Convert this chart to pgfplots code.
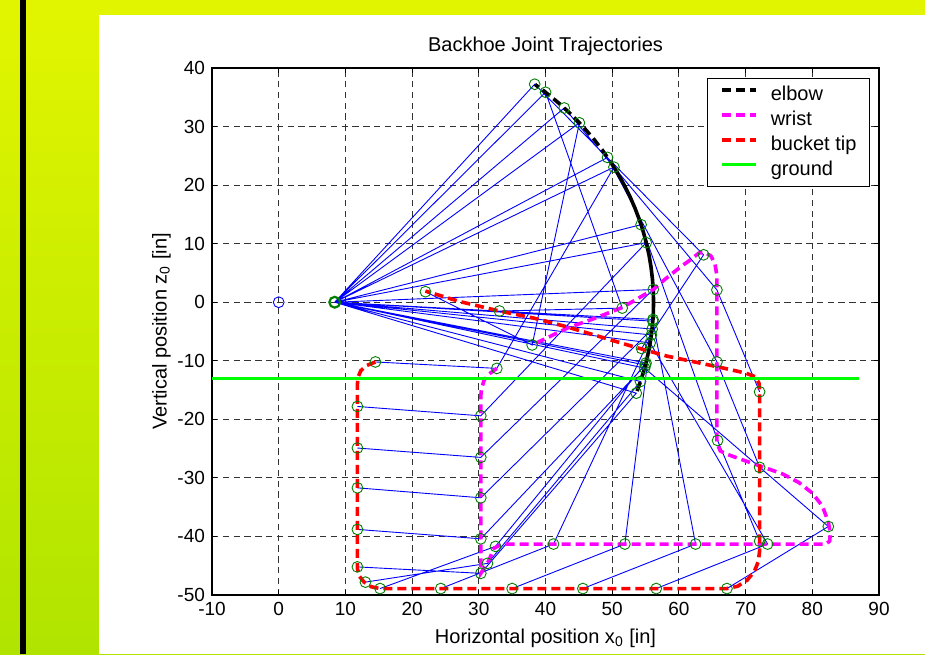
\documentclass[border=0pt]{standalone}
\usepackage{fontspec}
\setmainfont{Liberation Sans}
\usepackage{pgfplots}
\pgfplotsset{compat=1.18}

\definecolor{bgtop}{RGB}{226,245,0}
\definecolor{bgbot}{RGB}{176,228,0}
\definecolor{circ}{RGB}{0,128,0}
\definecolor{gnd}{RGB}{0,255,0}
\definecolor{mag}{RGB}{255,0,255}
\definecolor{rd}{RGB}{255,0,0}
\definecolor{bl}{RGB}{0,0,255}

\begin{document}
\begin{tikzpicture}
% slide background
\path[use as bounding box] (0,0) rectangle (462.5pt,327pt);
\shade[top color=bgtop, bottom color=bgbot] (0,0) rectangle (462.5pt,327pt);
\fill[black] (9.75pt,0) rectangle (13pt,327pt);
\fill[white] (49.5pt,0) rectangle (462.5pt,319.5pt);

\begin{axis}[
  at={(106pt,29.5pt)}, anchor=south west,
  scale only axis, width=333.5pt, height=263.5pt,
  xmin=-10, xmax=90, ymin=-50, ymax=40,
  xtick={-10,0,...,90}, ytick={-50,-40,...,40},
  tick pos=both, tick align=inside, major tick length=2.5pt,
  tick style={black, line width=0.5pt},
  axis line style={line width=0.75pt},
  grid=major,
  major grid style={black!80, line width=0.5pt, dash pattern=on 3.2pt off 2.2pt},
  /pgf/number format/assume math mode=true,
  ticklabel style={font=\fontsize{9.5}{11}\selectfont},
  label style={font=\fontsize{10}{12}\selectfont},
  title style={font=\fontsize{10}{12}\selectfont, yshift=-3.5pt},
  ylabel shift=-3.5pt,
  title={Backhoe Joint Trajectories},
  xlabel={Horizontal position x\textsubscript{0} [in]},
  ylabel={Vertical position z\textsubscript{0} [in]},
  unbounded coords=jump,
  legend cell align=left,
  legend style={at={(0.9865,0.981)}, anchor=north east, draw=black,
    line width=0.6pt, font=\fontsize{10}{12}\selectfont,
    inner xsep=6.5pt, inner ysep=3pt, row sep=2pt, column sep=6.5pt,
    nodes={inner sep=0pt, text height=8pt, text depth=2.5pt}},
  legend image code/.code={\draw[#1] (0pt,2.7pt) -- (17pt,2.7pt);},
  pathstyle/.style={line width=1.8pt, dash pattern=on 4.5pt off 2.5pt},
]

% links: base -> elbow -> wrist -> bucket tip, one per frame
\addplot[bl, line width=0.45pt, forget plot] coordinates {
 (8.4,0) (50.26,23.07) (32.7,-11.3) (14.5,-10.2) (nan,nan)
 (8.4,0) (55.10,10.18) (30.3,-19.4) (11.8,-17.8) (nan,nan)
 (8.4,0) (56.15,2.17) (30.3,-26.5) (11.8,-24.9) (nan,nan)
 (8.4,0) (55.99,-4.58) (30.3,-33.4) (11.8,-31.7) (nan,nan)
 (8.4,0) (54.98,-10.73) (30.3,-40.4) (11.8,-38.8) (nan,nan)
 (8.4,0) (53.61,-15.53) (30.3,-46.3) (11.8,-45.2) (nan,nan)
 (8.4,0) (54.24,-13.54) (31.3,-44.6) (13.0,-47.8) (nan,nan)
 (8.4,0) (55.07,-10.37) (32.5,-41.7) (15.2,-48.9) (nan,nan)
 (8.4,0) (55.87,-5.59) (41.2,-41.3) (24.3,-48.9) (nan,nan)
 (8.4,0) (56.11,-2.94) (51.9,-41.3) (35.0,-48.9) (nan,nan)
 (8.4,0) (56.09,-3.23) (62.5,-41.3) (45.6,-48.9) (nan,nan)
 (8.4,0) (55.69,-6.95) (73.3,-41.3) (56.6,-48.9) (nan,nan)
 (8.4,0) (54.86,-11.25) (82.4,-38.3) (67.2,-48.9) (nan,nan)
 (8.4,0) (54.33,13.25) (65.8,-23.6) (72.1,-40.8) (nan,nan)
 (8.4,0) (49.30,24.73) (65.7,-10.2) (72.1,-28.2) (nan,nan)
 (8.4,0) (42.81,33.18) (65.7,2.1) (72.1,-15.3) (nan,nan)
 (8.4,0) (38.38,37.23) (63.7,8.1) (54.4,-7.9) (nan,nan)
 (8.4,0) (40.01,35.86) (51.5,-1.0) (33.1,-1.5) (nan,nan)
 (8.4,0) (45.08,30.64) (38.0,-7.3) (22.0,1.8)
};

% elbow path
\addplot[black, pathstyle] coordinates {
 (50.26,23.07) (50.84,22) (51.81,20) (52.68,18) (53.44,16) (54.10,14)
 (54.67,12) (55.14,10) (55.53,8) (55.82,6) (56.03,4) (56.16,2) (56.2,0)
 (56.16,-2) (56.03,-4) (55.82,-6) (55.53,-8) (55.14,-10) (54.67,-12)
 (54.10,-14) (53.61,-15.53)
 (54.10,-14) (54.67,-12) (55.14,-10) (55.53,-8) (55.82,-6) (56.03,-4)
 (56.14,-2.5) (56.09,-3.23) (55.82,-6) (55.53,-8) (55.14,-10) (54.86,-11.25)
 (55.14,-10) (55.53,-8) (55.82,-6) (56.03,-4) (56.16,-2) (56.2,0)
 (56.16,2) (56.03,4) (55.82,6) (55.53,8) (55.14,10) (54.67,12) (54.33,13.25)
 (54.10,14) (53.44,16) (52.68,18) (51.81,20) (50.84,22) (49.74,24)
 (48.51,26) (47.14,28) (45.61,30) (43.91,32) (42.0,34) (39.85,36) (38.42,37.2)
 (39.85,36) (42.0,34) (43.91,32) (45.08,30.64)
};
\addlegendentry{elbow}

% wrist path
\addplot[mag, pathstyle] coordinates {
 (32.7,-11.3) (31.6,-12.2) (30.8,-13.3) (30.4,-14.8) (30.3,-16)
 (30.3,-46.3) (31.3,-44.6) (32.3,-42.0) (33.5,-41.3)
 (82.0,-41.3) (82.6,-40.8) (82.7,-39.5) (82.4,-37.5) (81.5,-34.8)
 (80.0,-32.6) (78.0,-30.8) (75.5,-29.3) (72.5,-28.1) (69.5,-26.9)
 (67.3,-26.0) (66.2,-25.4) (65.8,-24.3) (65.7,-23.6)
 (65.7,4.5) (65.4,6.6) (64.8,7.9) (63.9,8.5) (63.0,8.4) (61.8,7.3)
 (60.2,6.0) (58.0,4.0) (56.2,2.2) (53.5,0.4) (51.5,-0.9) (47.5,-2.7)
 (43.3,-4.4) (38.0,-7.3)
};
\addlegendentry{wrist}

% bucket tip path
\addplot[rd, pathstyle] coordinates {
 (14.5,-10.2) (13.2,-10.8) (12.3,-11.7) (11.9,-12.8) (11.8,-14)
 (11.8,-45.5) (12.1,-46.8) (12.8,-47.8) (13.9,-48.6) (15.2,-48.9)
 (67.2,-48.9) (68.8,-48.5) (70.2,-47.5) (71.3,-46.0) (71.9,-44.3)
 (72.1,-42.5) (72.1,-15.3) (72.0,-13.8) (71.4,-12.7) (70.0,-12.1)
 (66.5,-11.2) (63.2,-10.4) (58.2,-9.2) (53.2,-7.6) (48.2,-5.9)
 (43.2,-4.2) (38.2,-2.7) (33.1,-1.5) (27.2,0.1) (22.0,1.9)
};
\addlegendentry{bucket tip}

% ground
\addplot[gnd, line width=1.5pt] coordinates {(-10,-13) (87,-13)};
\addlegendentry{ground}

% joint markers
\addplot[only marks, mark=o, mark size=2.7pt, circ, line width=0.45pt, forget plot] coordinates {
 (50.26,23.07) (32.7,-11.3) (14.5,-10.2)
 (55.10,10.18) (30.3,-19.4) (11.8,-17.8)
 (56.15,2.17) (30.3,-26.5) (11.8,-24.9)
 (55.99,-4.58) (30.3,-33.4) (11.8,-31.7)
 (54.98,-10.73) (30.3,-40.4) (11.8,-38.8)
 (53.61,-15.53) (30.3,-46.3) (11.8,-45.2)
 (54.24,-13.54) (31.3,-44.6) (13.0,-47.8)
 (55.07,-10.37) (32.5,-41.7) (15.2,-48.9)
 (55.87,-5.59) (41.2,-41.3) (24.3,-48.9)
 (56.11,-2.94) (51.9,-41.3) (35.0,-48.9)
 (56.09,-3.23) (62.5,-41.3) (45.6,-48.9)
 (55.69,-6.95) (73.3,-41.3) (56.6,-48.9)
 (54.86,-11.25) (82.4,-38.3) (67.2,-48.9)
 (54.33,13.25) (65.8,-23.6) (72.1,-40.8)
 (49.30,24.73) (65.7,-10.2) (72.1,-28.2)
 (42.81,33.18) (65.7,2.1) (72.1,-15.3)
 (38.38,37.23) (63.7,8.1) (54.4,-7.9)
 (40.01,35.86) (51.5,-1.0) (33.1,-1.5)
 (45.08,30.64) (38.0,-7.3) (22.0,1.8)
};
% base pivot
\addplot[only marks, mark=o, mark size=2.7pt, circ, line width=1.1pt, forget plot] coordinates {(8.4,0)};
% origin
\addplot[only marks, mark=o, mark size=2.7pt, bl, line width=0.45pt, forget plot] coordinates {(0,0)};
\end{axis}
\end{tikzpicture}
\end{document}
